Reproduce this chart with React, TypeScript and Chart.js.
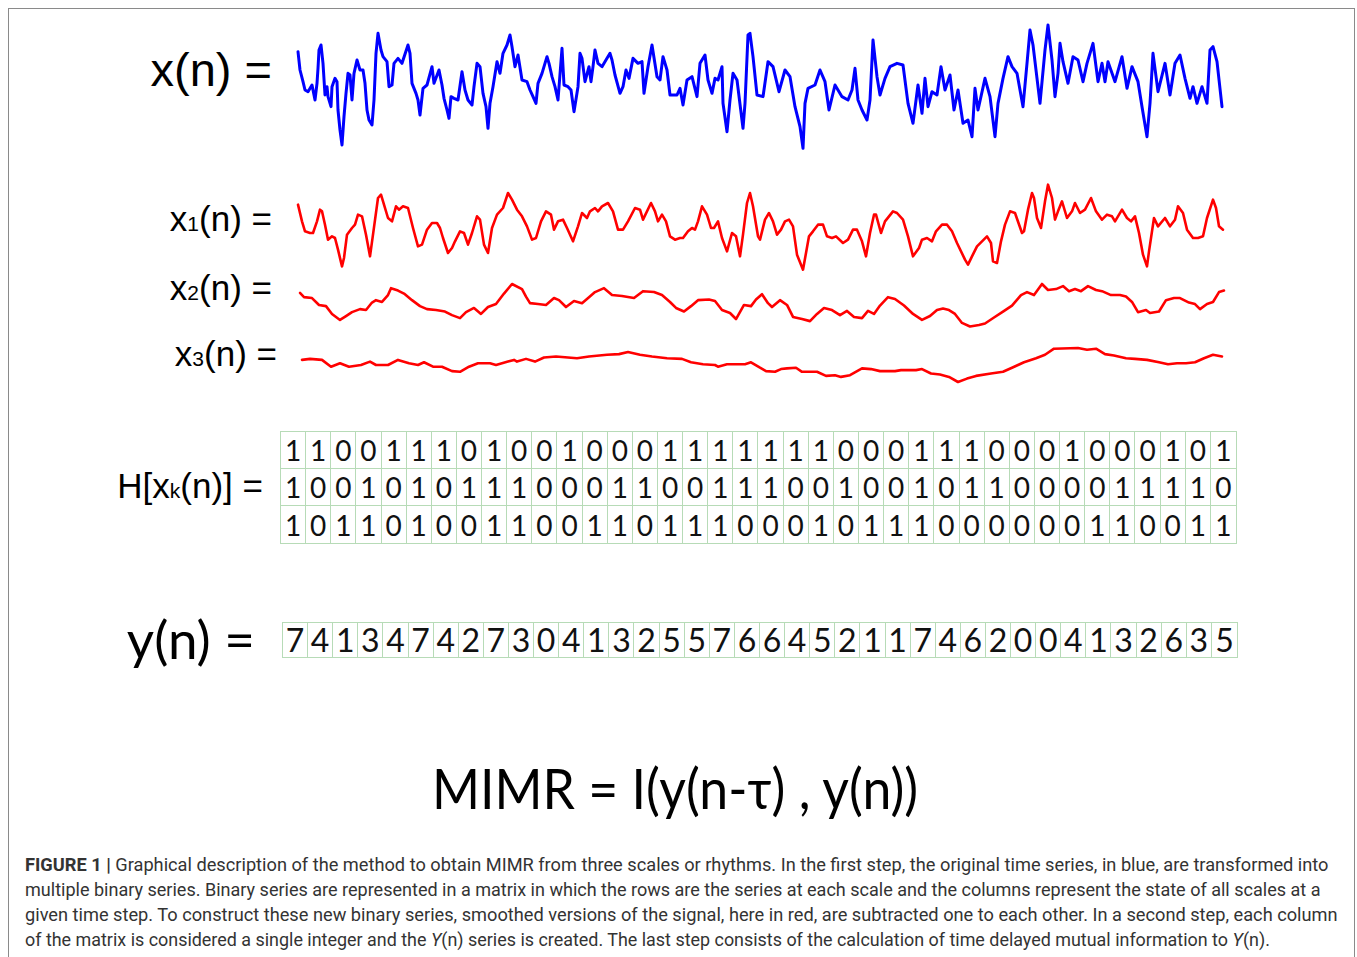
import React, { useEffect, useLayoutEffect, useRef } from "react";
import { Chart, registerables } from "chart.js";

Chart.register(...registerables);

// ---------- DATA ----------
// sample index n, amplitude
const blueSeries: [number, number][] = [
  [1,1.05],[3,0.5],[6,0.15],[8,-0.1],[11,-0.15],[15,0.05],[18,-0.4],[20,0.1],[21,0.55],[22,1.1],[24,1.25],[26,0.7],[28,-0.25],[30,0],[31,-0.3],[34,-0.6],[35,0],[38,0.25],[40,0.15],[41,-0.7],[43,-1.3],[45,-1.75],[47,-0.9],[49,-0.2],[51,0.4],[53,0.35],[55,-0.4],[57,0.4],[60,0.8],[63,0.5],[66,0.5],[68,0.1],[70,-0.7],[72,-1.0],[75,-1.15],[77,-0.4],[79,1.0],[81,1.6],[84,1.1],[86,0.9],[90,0.75],[92,0],[95,0.05],[97,0.7],[101,0.85],[105,0.7],[111,1.25],[113,1.0],[115,0.1],[119,-0.2],[121,-0.4],[123,-0.85],[126,-0.05],[130,0.05],[135,0.6],[137,0.1],[142,0.5],[145,0.05],[147,-0.35],[150,-0.7],[152,-0.95],[154,-0.3],[157,-0.35],[161,-0.4],[165,0.45],[168,-0.1],[171,-0.4],[175,-0.55],[177,0],[180,0.7],[183,0.6],[186,-0.2],[189,-0.6],[191,-1.25],[193,-0.5],[196,0],[200,0.75],[203,0.4],[206,1.0],[210,1.25],[213,1.55],[215,1.2],[218,0.6],[221,0.95],[225,0.2],[230,0.15],[233,-0.1],[236,-0.3],[239,-0.5],[241,0.1],[245,0.4],[250,0.9],[252,0.7],[255,0.3],[258,0],[261,-0.4],[265,1.15],[267,0.05],[271,0],[274,-0.1],[277,-0.75],[281,0],[283,1.0],[285,0.85],[288,0.15],[292,0.6],[294,0.15],[296,0.6],[298,1.1],[301,0.7],[305,0.6],[310,0.85],[313,1.0],
  [315,0.8],[318,0.35],[323,-0.2],[326,0],[329,0.5],[332,0.25],[336,0.85],[341,0.7],[345,0.75],[347,-0.2],[351,0.6],[355,1.25],[360,0.3],[363,0.2],[366,0.9],[370,0.5],[373,-0.25],[380,-0.25],[383,-0.05],[386,-0.55],[390,0.2],[395,0.3],[400,-0.3],[403,0.7],[408,0.95],[411,0.2],[415,-0.2],[418,0.25],[421,0.2],[425,0.6],[426,-0.5],[430,-1.35],[433,-0.4],[436,0.4],[440,0.2],[446,-1.25],[448,-0.5],[451,1.55],[453,1.6],[456,0.9],[460,-0.25],[466,-0.3],[471,0.75],[476,0.6],[482,-0.15],[488,0.5],[493,0.3],[498,-0.6],[503,-1.2],[506,-1.85],[508,-0.5],[511,-0.05],[518,0.05],[523,0.5],[528,0.15],[532,-0.7],[538,0.05],[545,-0.3],[551,-0.4],[555,-0.1],[558,0.55],[561,-0.4],[565,-0.7],[570,-1.0],[573,-0.4],[576,1.4],[580,0.3],[583,-0.25],[588,0.25],[593,0.6],[600,0.7],[606,0.65],
  [611,-0.5],[616,-1.1],[621,0.05],[625,-0.8],[628,0.25],[631,-0.6],[635,-0.15],[640,-0.25],[644,0.6],[648,-0.1],[653,0.35],[657,-0.7],[661,-0.1],[666,-1.1],[671,-1.0],[675,-1.5],[678,-0.05],[681,-0.7],[688,0.25],[693,-0.3],[698,-1.5],[701,-0.5],[706,0.25],[711,0.9],[715,0.6],[720,0.4],[726,-0.6],[730,0.7],[733,1.7],[736,1.25],[740,0.25],[743,-0.5],[748,1.1],[751,1.85],[755,0.8],[758,-0.3],[761,0.4],[763,1.3],[766,0.75],[771,0.1],[776,0.9],[781,0.8],[786,0.15],[790,0.7],[796,1.3],[801,0.15],[805,0.7],[808,0.15],[811,0.75],[818,0.15],[825,0.9],[830,-0.05],[835,0.6],[841,0.15],[845,-0.6],[850,-1.5],[853,-0.5],[856,1.0],[861,-0.15],[868,0.7],[873,-0.25],[878,0.7],[883,0.95],[888,0.25],[893,-0.35],[896,0],[900,-0.5],[905,0],[910,-0.5],[913,1.1],[916,1.2],[920,0.75],[925,-0.6]
];

const x1Series: [number, number][] = [
  [1,0.7],[5,0.2],[8,-0.1],[13,-0.15],[16,-0.15],[20,0.2],[23,0.55],[25,0.5],[28,0.1],[31,-0.35],[35,-0.25],[38,-0.3],[41,-0.65],[45,-1.15],[47,-0.9],[50,-0.2],[55,0],[58,0.1],[61,0.4],[65,0.35],[69,-0.2],[73,-0.85],[76,-0.2],[81,0.9],[84,1.0],[87,0.7],[91,0.3],[95,0.2],[99,0.65],[102,0.55],[106,0.65],[111,0.6],[116,0],[121,-0.55],[125,-0.5],[130,-0.05],[135,0.15],[140,0.15],[143,0],[146,-0.3],[151,-0.75],[155,-0.6],[158,-0.4],[163,-0.1],[167,-0.15],[171,-0.5],[175,-0.15],[180,0.35],[183,0.25],[187,-0.5],[191,-0.75],[195,0],[200,0.4],[206,0.6],[211,1.05],[215,0.85],[220,0.55],[225,0.35],[230,0.05],[235,-0.35],[239,-0.3],[244,0.2],[249,0.5],[254,0.4],[257,-0.05],[261,0.2],[266,0.25],[270,0],[276,-0.4],[281,0.05],[285,0.45],[290,0.3],[293,0.5],[298,0.6],[301,0.5],[305,0.65],[311,0.75],[316,0.5],[321,-0.05],[326,-0.05],[331,0.2],[338,0.6],[343,0.55],[346,0.25],[354,0.75],[358,0.5],[361,0.2],[365,0.4],[369,0.2],[373,-0.25],[378,-0.35],[383,-0.3],[386,-0.3],[391,-0.1],[395,0],[398,-0.05],[401,0.2],[405,0.65],[410,0.4],[414,0],[417,0],[421,0.2],[425,-0.3],[430,-0.7],[435,-0.15],[439,-0.25],[443,-0.85],[446,-0.2],[450,0.75],[453,1.05],[456,0.65],[461,-0.25],[463,-0.35],
  [468,0.25],[472,0.45],[476,0.2],[480,-0.2],[484,-0.05],[488,0.2],[492,0.25],[496,0.05],[500,-0.8],[506,-1.25],[509,-0.75],[512,-0.25],[516,-0.1],[521,0.1],[526,0.1],[530,-0.25],[535,-0.3],[539,-0.25],[546,-0.45],[551,-0.35],[556,-0.05],[560,-0.05],[565,-0.4],[569,-0.85],[573,-0.15],[577,0.4],[579,0.4],[584,-0.15],[588,0.2],[596,0.5],[600,0.45],[606,0.25],[611,-0.25],[616,-0.85],[622,-0.6],[625,-0.35],[630,-0.3],[635,-0.4],[639,-0.1],[645,0.1],[650,0.1],[655,-0.1],[660,-0.45],[668,-0.95],[671,-1.1],[675,-0.85],[680,-0.55],[690,-0.25],[694,-0.45],[696,-1.0],[700,-1.05],[704,-0.4],[708,0.1],[713,0.5],[718,0.45],[725,-0.15],[727,-0.1],[731,0.55],[735,1.05],[737,0.9],[740,0.3],[744,0],[748,0.8],[751,1.3],[755,0.9],[758,0.25],[761,0.5],[765,0.8],[770,0.3],[775,0.5],[778,0.75],[783,0.45],[788,0.55],[794,0.9],[799,0.5],[805,0.25],[810,0.4],[815,0.35],[818,0.2],[825,0.55],[830,0.3],[834,0.2],[838,0.35],[842,-0.15],[846,-0.8],[850,-1.15],[852,-0.7],[857,0.3],[861,0.05],[868,0.3],[873,0.05],[878,0.25],[881,0.65],[886,0.45],[890,-0.05],[896,-0.3],[901,-0.3],[906,-0.25],[910,0.3],[916,0.85],[919,0.6],[922,0.05],[926,-0.05]
];

const x2Series: [number, number][] = [
  [3,5.2],[7,3.8],[15,3.5],[22,1.2],[29,0.8],[35,-1.8],[43,-3.8],[49,-2.5],[55,-1.2],[63,-0.2],[69,-0.5],[75,2.0],[79,2.8],[85,2.2],[91,4.5],[94,6.8],[101,6.0],[107,5.0],[115,2.8],[123,0.8],[130,-0.2],[139,-0.5],[148,-1.0],[155,-2.2],[163,-3.2],[169,-1.2],[177,0.2],[184,-1.8],[191,0.5],[199,1.5],[207,5.0],[215,8.2],[225,6.5],[229,4.0],[233,1.8],[241,1.5],[249,1.2],[257,3.5],[262,2.8],[269,0.5],[277,2.5],[285,1.8],[292,3.8],[298,5.5],[307,6.8],[315,4.5],[325,4.2],[337,3.5],[346,5.8],[357,5.5],[365,4.5],[373,2.2],[379,0.2],[387,-1.0],[394,0.8],[401,2.8],[412,3.0],[418,2.5],[425,-0.5],[433,-1.5],[439,-3.5],[447,1.2],[454,0.8],[459,3.0],[465,4.8],[471,1.8],[475,0.5],[483,2.8],[490,1.2],[496,-2.8],[505,-3.5],[513,-4.2],[520,-1.8],[527,0.2],[535,-0.5],[543,-2.2],[550,-0.8],[557,-2.8],[565,-3.2],[571,-0.8],[577,-1.8],[583,1.0],[591,3.8],[598,3.2],[607,1.0],[616,-1.8],[625,-3.8],[633,-2.5],[640,-0.5],[646,0],[652,-0.5],[658,-1.8],[665,-4.8],[673,-6.0],[682,-5.5],[688,-5.0],[697,-3.0],[706,-1.0],[715,1.0],[724,4.5],[730,5.5],[737,4.5],[745,8.2],[751,6.2],[759,6.5],[766,7.5],[772,5.8],[778,6.5],[784,5.8],[791,7.5],[799,6.2],[805,5.8],[814,4.5],[823,4.5],[829,4.0],[835,2.2],[841,-1.2],[849,-0.5],[853,-1.5],[862,-1.0],[869,2.8],[877,3.5],[883,3.5],[892,2.0],[898,1.5],[903,-0.2],[910,1.5],[916,2.2],[922,5.5],[927,6.0]
];

const x3Series: [number, number][] = [
  [5,3.5],[13,3.8],[25,3.5],[34,1.5],[43,2.5],[52,1.5],[64,2.0],[73,3.0],[79,2.0],[91,2.0],[101,3.5],[112,2.5],[121,2.0],[127,2.8],[136,1.5],[145,1.5],[155,0.2],[163,0],[172,1.5],[181,2.5],[193,2.5],[199,2.0],[211,3.0],[217,3.5],[220,3.0],[229,3.8],[238,3.0],[247,4.2],[259,4.5],[280,4.0],[292,4.5],[310,5.0],[322,5.2],[331,5.8],[343,5.0],[355,4.5],[370,4.0],[385,3.8],[394,2.8],[406,2.2],[418,2.0],[421,1.5],[430,2.2],[448,2.2],[454,2.8],[463,1.2],[469,0.2],[478,0],[484,0.8],[490,1.0],[499,1.2],[505,0],[520,0],[529,-1.2],[538,-1.0],[544,-1.5],[553,-1.0],[565,1.0],[574,0.8],[583,0.2],[598,0.2],[604,0.5],[619,0.5],[625,0.8],[634,-0.5],[643,-0.8],[652,-1.5],[661,-3.0],[670,-2.0],[679,-1.2],[694,-0.5],[706,0],[715,1.2],[727,2.8],[739,4.0],[748,5.0],[757,6.8],[781,7.0],[790,6.5],[799,6.8],[808,5.2],[817,4.8],[829,4.0],[838,3.8],[850,3.5],[862,2.8],[871,2.2],[880,2.5],[889,2.5],[898,2.8],[907,4.0],[916,5.0],[925,4.5]
];

const matrixRow1 = [1,1,0,0,1,1,1,0,1,0,0,1,0,0,0,1,1,1,1,1,1,1,0,0,0,1,1,1,0,0,0,1,0,0,0,1,0,1];
const matrixRow2 = [1,0,0,1,0,1,0,1,1,1,0,0,0,1,1,0,0,1,1,1,0,0,1,0,0,1,0,1,1,0,0,0,0,1,1,1,1,0];
const matrixRow3 = [1,0,1,1,0,1,0,0,1,1,0,0,1,1,0,1,1,1,0,0,0,1,0,1,1,1,0,0,0,0,0,0,1,1,0,0,1,1];
const yValues = [7,4,1,3,4,7,4,2,7,3,0,4,1,3,2,5,5,7,6,6,4,5,2,1,1,7,4,6,2,0,0,4,1,3,2,6,3,5];

const captionLines = [
  "multiple binary series. Binary series are represented in a matrix in which the rows are the series at each scale and the columns represent the state of all scales at a",
  "given time step. To construct these new binary series, smoothed versions of the signal, here in red, are subtracted one to each other. In a second step, each column",
];

// ---------- COMPONENTS ----------
const N_MIN = -7;
const N_MAX = 933;

type SignalProps = {
  series: [number, number][];
  color: string;
  lineWidth: number;
  top: number;
  height: number;
  yMin: number;
  yMax: number;
};

function Signal({ series, color, lineWidth, top, height, yMin, yMax }: SignalProps) {
  const ref = useRef<HTMLCanvasElement>(null);
  useEffect(() => {
    const chart = new Chart(ref.current as HTMLCanvasElement, {
      type: "line",
      data: {
        datasets: [
          {
            data: series.map(([x, y]) => ({ x, y })),
            borderColor: color,
            borderWidth: lineWidth,
            pointRadius: 0,
            tension: 0,
            fill: false,
            borderJoinStyle: "round",
            borderCapStyle: "round",
          } as any,
        ],
      },
      options: {
        animation: false,
        responsive: false,
        maintainAspectRatio: false,
        events: [],
        layout: { padding: 0 },
        plugins: { legend: { display: false }, tooltip: { enabled: false } },
        scales: {
          x: { type: "linear", display: false, min: N_MIN, max: N_MAX },
          y: { type: "linear", display: false, min: yMin, max: yMax },
        },
      },
    });
    return () => chart.destroy();
  }, []);
  return (
    <canvas
      ref={ref}
      width={940}
      height={height}
      style={{ position: "absolute", left: 290, top, width: 940, height }}
    />
  );
}

const CELL_BORDER = "#b7dbb7";

function Grid({ rows, left, top, width, rowHeight, fontSize }: { rows: number[][]; left: number; top: number; width: number; rowHeight: number; fontSize: number }) {
  const cols = rows[0].length;
  return (
    <div
      style={{
        position: "absolute",
        left,
        top,
        width,
        display: "grid",
        gridTemplateColumns: `repeat(${cols}, 1fr)`,
        gridAutoRows: rowHeight,
        border: `1px solid ${CELL_BORDER}`,
        boxSizing: "border-box",
        background: "#fff",
      }}
    >
      {rows.flatMap((r, ri) =>
        r.map((v, ci) => (
          <div
            key={`${ri}-${ci}`}
            style={{
              borderRight: ci < cols - 1 ? `1px solid ${CELL_BORDER}` : "none",
              borderBottom: ri < rows.length - 1 ? `1px solid ${CELL_BORDER}` : "none",
              display: "flex",
              alignItems: "center",
              justifyContent: "center",
              fontFamily: "Lato, 'Open Sans', sans-serif",
              fontSize,
              color: "#111",
              lineHeight: 1,
            }}
          >
            {v}
          </div>
        ))
      )}
    </div>
  );
}

function FitLine({ top, left = 25, target, style, children }: { top: number; left?: number; target: number; style?: React.CSSProperties; children: React.ReactNode }) {
  const ref = useRef<HTMLDivElement>(null);
  useLayoutEffect(() => {
    const el = ref.current;
    if (!el) return;
    el.style.transform = "none";
    const w = el.scrollWidth;
    if (w > 0) el.style.transform = `scaleX(${target / w})`;
  }, []);
  return (
    <div
      ref={ref}
      style={{
        position: "absolute",
        left,
        top,
        whiteSpace: "nowrap",
        display: "inline-block",
        transformOrigin: "0 0",
        fontFamily: "Roboto, 'Liberation Sans', sans-serif",
        fontSize: 18,
        lineHeight: "25px",
        color: "#333",
        ...style,
      }}
    >
      {children}
    </div>
  );
}

const label: React.CSSProperties = {
  position: "absolute",
  fontFamily: "'Liberation Sans', Arial, sans-serif",
  lineHeight: 1,
  whiteSpace: "nowrap",
  color: "#000",
};
const sub: React.CSSProperties = { fontSize: "0.6em" };

export default function App() {
  return (
    <div style={{ position: "absolute", left: 0, top: 0, width: 1357, height: 957, overflow: "hidden", background: "#fff" }}>
      <div style={{ position: "absolute", left: 8, top: 8, width: 1347, height: 980, border: "1px solid #8a8a8a", boxSizing: "border-box" }} />

      <div style={{ ...label, right: 1085, top: 46, fontSize: 47 }}>x(n) =</div>
      <div style={{ ...label, right: 1085, top: 201, fontSize: 35 }}>x<span style={sub}>1</span>(n) =</div>
      <div style={{ ...label, right: 1085, top: 270, fontSize: 35 }}>x<span style={sub}>2</span>(n) =</div>
      <div style={{ ...label, right: 1080, top: 336, fontSize: 35 }}>x<span style={sub}>3</span>(n) =</div>
      <div style={{ ...label, right: 1094, top: 468, fontSize: 35 }}>H[x<span style={sub}>k</span>(n)] =</div>
      <div style={{ ...label, right: 1102, top: 612, fontSize: 53, fontFamily: "Lato, sans-serif" }}>y(n) =</div>

      <Signal series={blueSeries} color="#0000ff" lineWidth={3} top={18} height={140} yMin={-2.14} yMax={2.06} />
      <Signal series={x1Series} color="#ff0000" lineWidth={2.6} top={175} height={100} yMin={-1.41} yMax={1.59} />
      <Signal series={x2Series} color="#ff0000" lineWidth={2.6} top={275} height={65} yMin={-10.5} yMax={11.2} />
      <Signal series={x3Series} color="#ff0000" lineWidth={2.6} top={338} height={54} yMin={-5.94} yMax={9.94} />

      <Grid rows={[matrixRow1, matrixRow2, matrixRow3]} left={280} top={431} width={957} rowHeight={37} fontSize={28} />
      <Grid rows={[yValues]} left={282} top={622} width={956} rowHeight={34} fontSize={32} />

      <FitLine top={760} left={432} target={486} style={{ fontFamily: "Lato, sans-serif", fontSize: 56, lineHeight: 1, color: "#000" }}>
        MIMR = I(y(n-τ) , y(n))
      </FitLine>

      <FitLine top={852} target={1303}>
        <b>FIGURE 1 |</b> Graphical description of the method to obtain MIMR from three scales or rhythms. In the first step, the original time series, in blue, are transformed into
      </FitLine>
      <FitLine top={877} target={1295}>{captionLines[0]}</FitLine>
      <FitLine top={902} target={1313}>{captionLines[1]}</FitLine>
      <FitLine top={927} target={1245}>
        of the matrix is considered a single integer and the <i>Y</i>(n) series is created. The last step consists of the calculation of time delayed mutual information to <i>Y</i>(n).
      </FitLine>
    </div>
  );
}
